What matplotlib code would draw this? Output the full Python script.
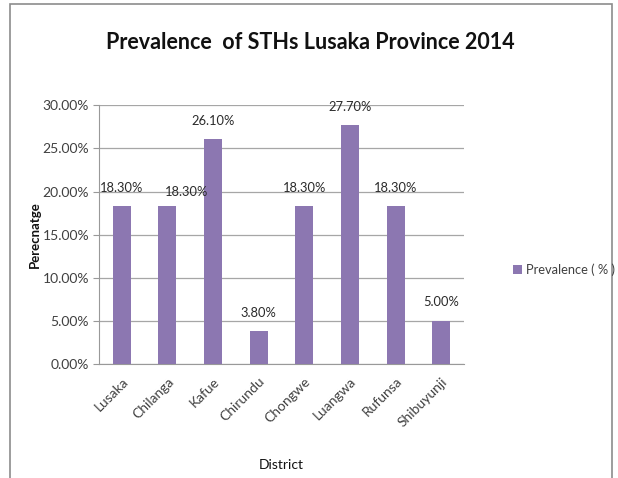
import numpy as np
from matplotlib import pyplot as plt
from matplotlib.patches import Rectangle
from matplotlib.ticker import PercentFormatter

districts = ["Lusaka", "Chilanga", "Kafue", "Chirundu", "Chongwe",
             "Luangwa", "Rufunsa", "Shibuyunji"]
prevalence = [18.3, 18.3, 26.1, 3.8, 18.3, 27.7, 18.3, 5.0]
y_ticks = [0, 5, 10, 15, 20, 25, 30]

bar_colour = "#8c77b1"
text_colour = "#404040"
# Chilanga's label sits a bit off its bar in the original
label_shift = {1: (14, -3)}

plt.rcParams["font.family"] = ["Lato", "DejaVu Sans"]

fig = plt.figure(figsize=(6.18, 4.78), dpi=100)
ax = fig.add_axes([0.160, 0.2385, 0.591, 0.541])

x = np.arange(len(districts))
bars = ax.bar(x, prevalence, width=0.4, color=bar_colour,
              label="Prevalence ( % )", zorder=3)

for i, (b, v) in enumerate(zip(bars, prevalence)):
    dx, dy = label_shift.get(i, (0, 0))
    ax.annotate(f"{v:.2f}%", (b.get_x() + b.get_width() / 2, v),
                xytext=(dx, 9 + dy), textcoords="offset points",
                ha="center", va="bottom", fontsize=9.3, color="#2a2a2a",
                zorder=4)

ax.set_xlim(-0.5, len(districts) - 0.5)
ax.set_ylim(0, 30)
ax.set_yticks(y_ticks)
ax.yaxis.set_major_formatter(PercentFormatter(decimals=2))
ax.set_xticks(x)
ax.set_xticklabels(districts, rotation=45, ha="right", rotation_mode="anchor")
ax.tick_params(axis="x", length=0, pad=8, labelsize=10, labelcolor=text_colour)
ax.tick_params(axis="y", length=4, width=0.8, color="#999999", labelsize=10,
               labelcolor=text_colour, pad=3)
ax.grid(axis="y", color="#a6a6a6", linewidth=0.9, zorder=0)
ax.spines["top"].set_visible(False)
ax.spines["right"].set_visible(False)
ax.spines["left"].set_color("#999999")
ax.spines["bottom"].set_color("#999999")

ax.set_ylabel("Perecnatge", fontsize=9.5, fontweight="bold", labelpad=1,
              color="#111111")
ax.set_xlabel("District", fontsize=10, labelpad=22, color="#111111")

fig.text(0.502, 0.912, "Prevalence  of STHs Lusaka Province 2014",
         ha="center", va="center", fontsize=15.5, fontweight="bold",
         color="#111111")

fig.legend(loc="center left", bbox_to_anchor=(0.812, 0.435), frameon=False,
           fontsize=9.3, handlelength=0.7, handleheight=0.7,
           handletextpad=0.3, labelcolor=text_colour)

fig.patches.append(Rectangle((0.016, -0.01), 0.974, 1.0016, transform=fig.transFigure,
                             fill=False, edgecolor="#8c8c8c", linewidth=1.2))

fig.savefig("out.png", dpi=100)
